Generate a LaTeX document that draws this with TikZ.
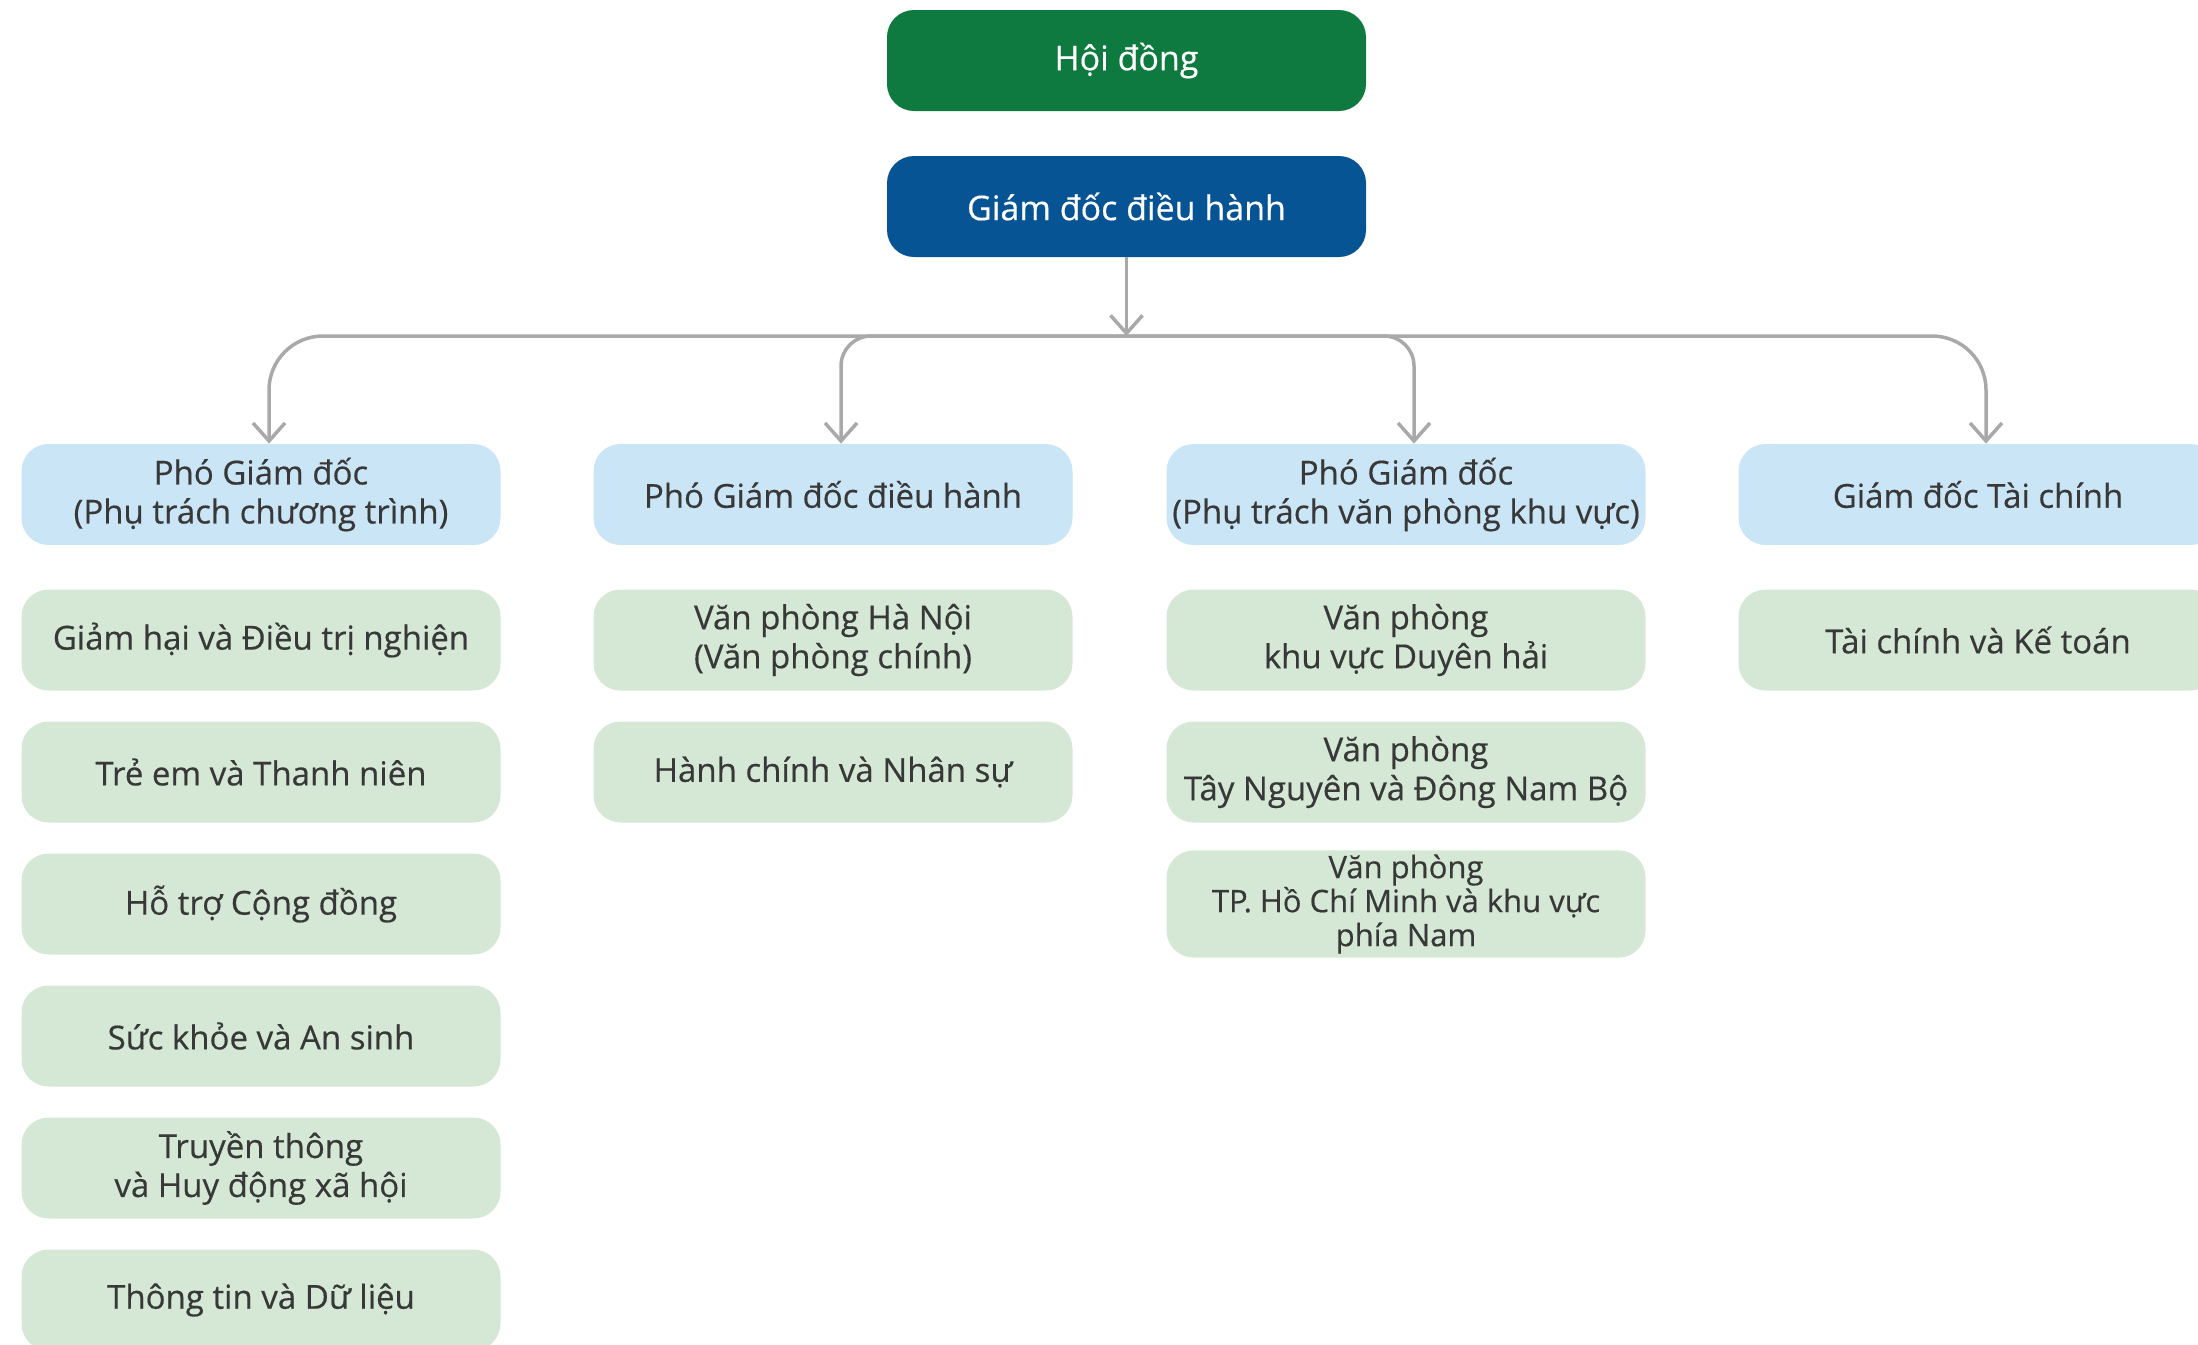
\documentclass[tikz,border=0pt]{standalone}
\usepackage{fontspec}
\setmainfont{Open Sans}[FakeBold=0.4]
\usetikzlibrary{positioning,arrows.meta}
\definecolor{boardgreen}{HTML}{0F7A3F}
\definecolor{ceoblue}{HTML}{075494}
\definecolor{headblue}{HTML}{CAE5F5}
\definecolor{unitgreen}{HTML}{D4E8D5}
\definecolor{txtgray}{HTML}{383838}
\definecolor{linegray}{HTML}{A9A9A9}

\begin{document}
\begin{tikzpicture}[x=0.5pt, y=-0.5pt, >={Straight Barb[length=9pt,width=16pt]}]
      \tikzstyle{box} = [rectangle, rounded corners=13.5pt, minimum width=239.5pt, minimum height=50.5pt, align=center, inner sep=2pt, text=txtgray, font=\fontsize{16.5}{19.5}\selectfont]
      \tikzstyle{board} = [box, fill=boardgreen, text=white, font=\fontsize{17}{20}\selectfont]
      \tikzstyle{ceo} = [board, fill=ceoblue]
      \tikzstyle{headbox} = [box, fill=headblue]
      \tikzstyle{unitbox} = [box, fill=unitgreen]
      \tikzstyle{conn} = [draw=linegray, line width=1.75pt, ->]
      \useasboundingbox (0,0) rectangle (2198,1344);
      \clip (0,0) rectangle (2198,1344);

      \node [board] (hd) at (1126.5, 60.5) {Hội đồng};
      \node [ceo] (gd) at (1126.5, 206.5) {Giám đốc điều hành};
      \coordinate (jn) at (1126.5, 336);

      % heads of the four branches
      \node [headbox] (pgd1) at (261, 494.5) {Phó Giám đốc\\(Phụ trách chương trình)};
      \node [headbox] (pgd2) at (833, 494.5) {Phó Giám đốc điều hành};
      \node [headbox] (pgd3) at (1406, 494.5) {Phó Giám đốc\\(Phụ trách văn phòng khu vực)};
      \node [headbox] (gdtc) at (1978, 494.5) {Giám đốc Tài chính};

      % programme units
      \node [unitbox] (gh) at (261, 640) {Giảm hại và Điều trị nghiện};
      \node [unitbox] (te) at (261, 772) {Trẻ em và Thanh niên};
      \node [unitbox] (cd) at (261, 904) {Hỗ trợ Cộng đồng};
      \node [unitbox] (sk) at (261, 1036) {Sức khỏe và An sinh};
      \node [unitbox] (tt) at (261, 1168) {Truyền thông\\và Huy động xã hội};
      \node [unitbox] (dl) at (261, 1300) {Thông tin và Dữ liệu};

      \node [unitbox] (hn) at (833, 640) {Văn phòng Hà Nội\\(Văn phòng chính)};
      \node [unitbox] (ns) at (833, 772) {Hành chính và Nhân sự};

      \node [unitbox] (dh) at (1406, 640) {Văn phòng\\khu vực Duyên hải};
      \node [unitbox] (tn) at (1406, 772) {Văn phòng\\Tây Nguyên và Đông Nam Bộ};
      \node [unitbox, font=\fontsize{15.5}{17}\selectfont] (hcm) at (1406, 904) {Văn phòng\\TP. Hồ Chí Minh và khu vực\\phía Nam};

      \node [unitbox] (kt) at (1978, 640) {Tài chính và Kế toán};

      \draw [conn] (gd) -- (jn);
      \foreach \n/\r in {pgd1/27pt, pgd2/15pt, pgd3/15pt, gdtc/27pt} {
        \draw [conn, rounded corners=\r] (jn) -| ([xshift=4pt]\n.north);
      }
\end{tikzpicture}
\end{document}
